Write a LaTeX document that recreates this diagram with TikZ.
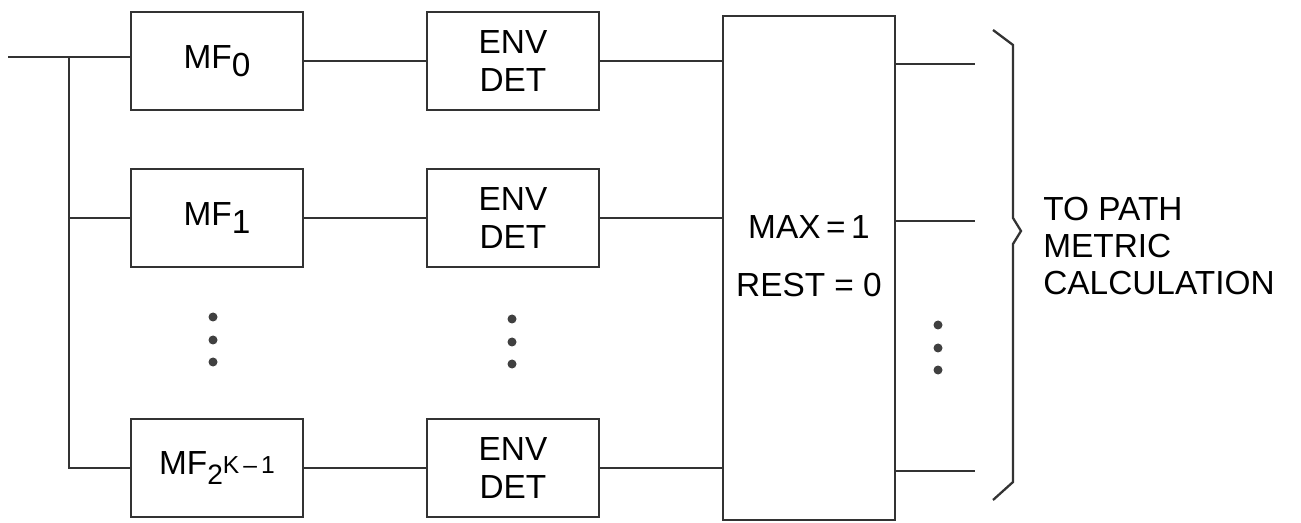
\documentclass[tikz,border=0pt]{standalone}
\usepackage{fontspec}
\setmainfont{Liberation Sans}
\usetikzlibrary{positioning}

\begin{document}
\begin{tikzpicture}[x=0.02cm, y=-0.02cm,
	box/.style={draw=black!80, line width=1.3pt, minimum width=3.44cm, minimum height=1.96cm,
		align=center, font=\fontsize{19}{19}\selectfont, inner sep=0pt},
	wire/.style={draw=black!80, line width=1.6pt},
	dot/.style={fill=black!75, draw=none}
]
	\useasboundingbox (0,0) rectangle (1301,523);

	% Matched filters
	\node[box] (mf0) at (217, 61) {MF\raisebox{-0.45ex}{0}};
	\node[box] (mf1) at (217, 218) {MF\raisebox{-0.45ex}{1}};
	\node[box] (mfk) at (217, 468)
		{MF\raisebox{-0.55ex}{\fontsize{16}{16}\selectfont 2\raisebox{0.75ex}{\fontsize{14}{14}\selectfont K\,--\,1}}};

	% Envelope detectors
	\node[box] (env0) at (513, 61) {ENV\\[3pt] DET};
	\node[box] (env1) at (513, 218) {ENV\\[3pt] DET};
	\node[box] (envk) at (513, 468) {ENV\\[3pt] DET};

	% Max selector
	\node[box, minimum height=10.08cm] (max) at (809, 268) {};
	\node[align=center, font=\fontsize{19}{19}\selectfont, inner sep=0pt]
		(maxlbl) at ([yshift=7pt]max.center) {MAX\,=\,1\\[14pt] REST = 0};

	% Input and branches
	\coordinate (in) at (8, 57);
	\coordinate (split) at (69, 57);
	\draw[wire] (in) -- (split) -- (mf0.west |- split);
	\draw[wire] (split) -- (split |- mfk.west) -- (mfk.west);
	\draw[wire] (split |- mf1.west) -- (mf1.west);

	% Filter to detector to selector
	\draw[wire] (mf0) -- (env0);
	\draw[wire] (mf1) -- (env1);
	\draw[wire] (mfk) -- (envk);
	\draw[wire] (env0) -- (env0 -| max.west);
	\draw[wire] (env1) -- (env1 -| max.west);
	\draw[wire] (envk) -- (envk -| max.west);

	% Outputs
	\coordinate (out0) at (975, 64);
	\coordinate (out1) at (975, 221);
	\coordinate (outk) at (975, 471);
	\draw[wire] (out0 -| max.east) -- (out0);
	\draw[wire] (out1 -| max.east) -- (out1);
	\draw[wire] (outk -| max.east) -- (outk);

	% Dots
	\foreach \y in {317, 340, 362} {
		\path[dot] (213, \y) circle (4.5);
		\path[dot] (512, \y+2) circle (4.5);
		\path[dot] (938, \y+8) circle (4.5);
	}

	% Brace and label
	\draw[draw=black!80, line width=1.3pt] (993, 30) -- (1013, 45) -- (1013, 218) -- (1021, 231)
		-- (1013, 244) -- (1013, 482) -- (993, 500);
	\node[anchor=west, align=left, font=\fontsize{19}{21}\selectfont, inner sep=0pt]
		(lbl) at (1043, 246) {TO PATH\\ METRIC\\ CALCULATION};
\end{tikzpicture}
\end{document}
